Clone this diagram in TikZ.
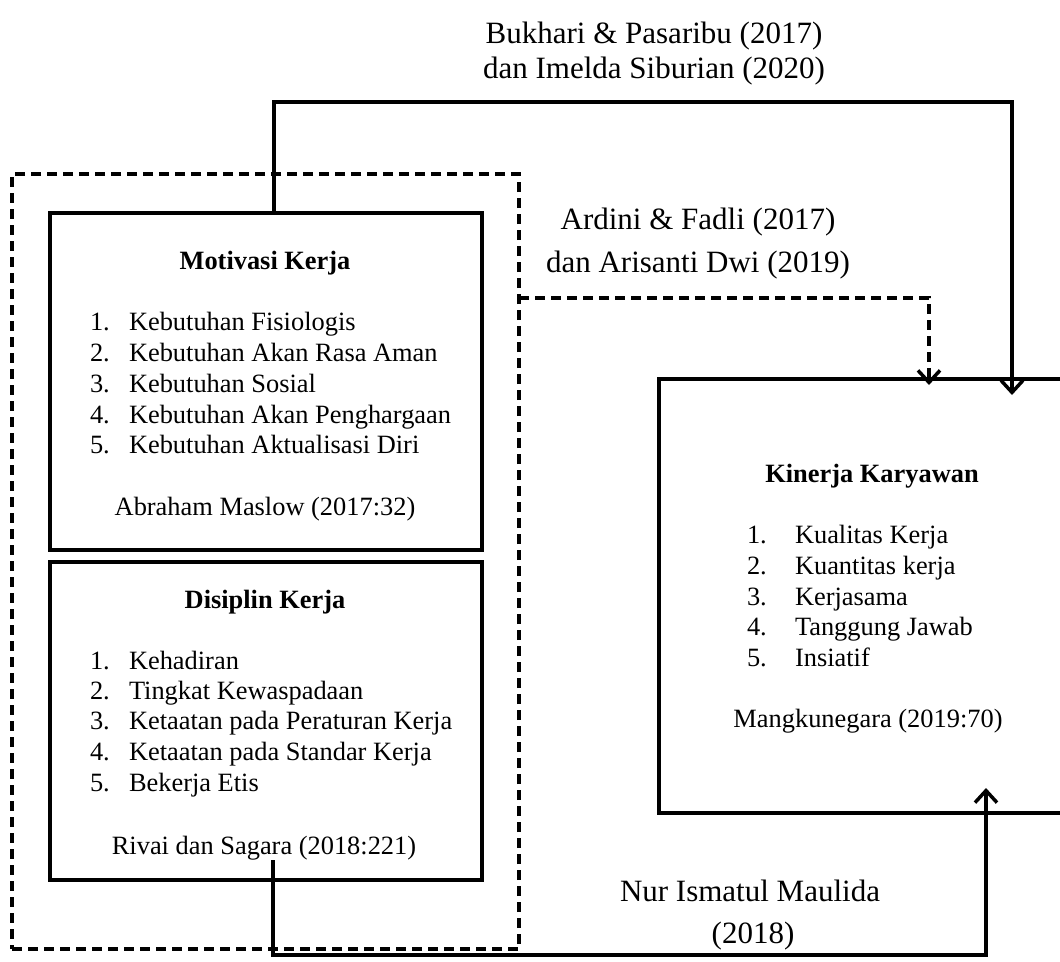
\documentclass[tikz,border=0pt]{standalone}
\usepackage{fontspec}
\setmainfont{Liberation Serif}
\usetikzlibrary{arrows.meta}
\begin{document}
\begin{tikzpicture}[x=1pt,y=-1pt,
  box/.style={draw, line width=3.5pt, inner sep=0pt, outer sep=0pt, anchor=north west},
  grpbox/.style={draw, line width=3.5pt, inner sep=0pt, outer sep=0pt, anchor=north west, dash pattern=on 10pt off 6pt},
  conn/.style={line width=3.5pt},
  tip/.style={-{Straight Barb[length=12pt,width=22pt]}},
  body/.style={font=\fontsize{26.4}{30.5}\selectfont, inner sep=0pt, outer sep=0pt},
  lab/.style={font=\fontsize{31}{35}\selectfont, inner sep=0pt, outer sep=0pt, anchor=base},
]
\useasboundingbox (0,0) rectangle (1060,961);
\clip (0,0) rectangle (1060,961);

% boxes
\node[grpbox, minimum width=507pt, minimum height=775pt] (grp) at (12,174) {};
\node[box, minimum width=432pt, minimum height=337pt] (mot) at (50,213) {};
\node[box, minimum width=432pt, minimum height=318pt] (dis) at (50,562) {};
\node[box, minimum width=440pt, minimum height=434pt] (kin) at (659,379) {};

% Motivasi Kerja
\node[body, anchor=base] (motT) at (265,269) {\bfseries Motivasi Kerja};
\foreach \n/\t/\y in {1/Kebutuhan Fisiologis/330, 2/Kebutuhan Akan Rasa Aman/361, 3/Kebutuhan Sosial/392, 4/Kebutuhan Akan Penghargaan/423, 5/Kebutuhan Aktualisasi Diri/453}{
  \node[body, anchor=base west] (motn\n) at (90,\y) {\n.};
  \node[body, anchor=base west] (moti\n) at (129,\y) {\t};
}
\node[body, anchor=base] (motS) at (265,515) {Abraham Maslow (2017:32)};

% Disiplin Kerja
\node[body, anchor=base] (disT) at (265,608) {\bfseries Disiplin Kerja};
\foreach \n/\t/\y in {1/Kehadiran/669, 2/Tingkat Kewaspadaan/699, 3/Ketaatan pada Peraturan Kerja/729, 4/Ketaatan pada Standar Kerja/760, 5/Bekerja Etis/791}{
  \node[body, anchor=base west] (disn\n) at (90,\y) {\n.};
  \node[body, anchor=base west] (disi\n) at (129,\y) {\t};
}
\node[body, anchor=base] (disS) at (264,854) {Rivai dan Sagara (2018:221)};

% Kinerja Karyawan
\node[body, anchor=base] (kinT) at (872,482) {\bfseries Kinerja Karyawan};
\foreach \n/\t/\y in {1/Kualitas Kerja/543, 2/Kuantitas kerja/574, 3/Kerjasama/605, 4/Tanggung Jawab/635, 5/Insiatif/666}{
  \node[body, anchor=base west] (kinn\n) at (747,\y) {\n.};
  \node[body, anchor=base west] (kini\n) at (795,\y) {\t};
}
\node[body, anchor=base] (kinS) at (868,727) {Mangkunegara (2019:70)};

% labels
\node[lab] (l1a) at (654,43) {Bukhari \& Pasaribu (2017)};
\node[lab] (l1b) at (654,78) {dan Imelda Siburian (2020)};
\node[lab] (l2a) at (698,229) {Ardini \& Fadli (2017)};
\node[lab] (l2b) at (698,272) {dan Arisanti Dwi (2019)};
\node[lab] (l3a) at (750,901) {Nur Ismatul Maulida};
\node[lab] (l3b) at (753,943) {(2018)};

% connectors
\coordinate (ta) at (274,102);
\coordinate (tb) at (1012,102);
\draw[conn, tip, shorten >=-16pt] (mot.north -| ta) -- (ta) -- (tb) -- (kin.north -| tb);

\coordinate (da) at (929,298);
\draw[conn, tip, dash pattern=on 10pt off 6pt, shorten >=-6pt] (grp.east |- da) -- (da) -- (kin.north -| da);

\coordinate (ba) at (273,860);
\coordinate (bb) at (986,955);
\draw[conn, tip, shorten >=-25pt] (ba) |- (bb) -- (kin.south -| bb);
\end{tikzpicture}
\end{document}
